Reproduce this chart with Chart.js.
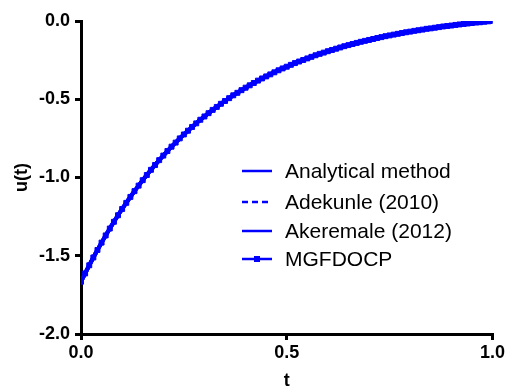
<!DOCTYPE html>
<html>
<head>
<meta charset="utf-8">
<script src="https://cdn.jsdelivr.net/npm/chart.js@4.4.0/dist/chart.umd.min.js"></script>
<style>
  html, body { margin: 0; padding: 0; background: #fff; }
  canvas { display: block; }
</style>
</head>
<body>
<canvas id="myChart" width="507" height="392"></canvas>
<script>
// t grid (step 0.01) and the curve
const tValues = [
  0.00, 0.01, 0.02, 0.03, 0.04, 0.05, 0.06, 0.07, 0.08, 0.09,
  0.10, 0.11, 0.12, 0.13, 0.14, 0.15, 0.16, 0.17, 0.18, 0.19,
  0.20, 0.21, 0.22, 0.23, 0.24, 0.25, 0.26, 0.27, 0.28, 0.29,
  0.30, 0.31, 0.32, 0.33, 0.34, 0.35, 0.36, 0.37, 0.38, 0.39,
  0.40, 0.41, 0.42, 0.43, 0.44, 0.45, 0.46, 0.47, 0.48, 0.49,
  0.50, 0.51, 0.52, 0.53, 0.54, 0.55, 0.56, 0.57, 0.58, 0.59,
  0.60, 0.61, 0.62, 0.63, 0.64, 0.65, 0.66, 0.67, 0.68, 0.69,
  0.70, 0.71, 0.72, 0.73, 0.74, 0.75, 0.76, 0.77, 0.78, 0.79,
  0.80, 0.81, 0.82, 0.83, 0.84, 0.85, 0.86, 0.87, 0.88, 0.89,
  0.90, 0.91, 0.92, 0.93, 0.94, 0.95, 0.96, 0.97, 0.98, 0.99,
  1.00,
];

const uAnalytical = [
  -1.666, -1.613, -1.561, -1.511, -1.463, -1.416, -1.370, -1.326, -1.283, -1.241,
  -1.201, -1.162, -1.124, -1.087, -1.052, -1.017, -0.984, -0.951, -0.920, -0.889,
  -0.860, -0.831, -0.803, -0.777, -0.750, -0.725, -0.701, -0.677, -0.654, -0.631,
  -0.610, -0.589, -0.568, -0.549, -0.529, -0.511, -0.493, -0.475, -0.459, -0.442,
  -0.426, -0.411, -0.396, -0.381, -0.367, -0.354, -0.341, -0.328, -0.315, -0.303,
  -0.292, -0.280, -0.269, -0.259, -0.249, -0.239, -0.229, -0.219, -0.210, -0.202,
  -0.193, -0.185, -0.177, -0.169, -0.161, -0.154, -0.147, -0.140, -0.133, -0.127,
  -0.121, -0.115, -0.109, -0.103, -0.097, -0.092, -0.087, -0.082, -0.077, -0.072,
  -0.068, -0.063, -0.059, -0.055, -0.050, -0.047, -0.043, -0.039, -0.035, -0.032,
  -0.029, -0.025, -0.022, -0.019, -0.016, -0.013, -0.010, -0.008, -0.005, -0.002,
  0.000,
];

// the other methods sit on top of the analytical curve in the picture
const uAdekunle = uAnalytical.slice();
const uAkeremale = uAnalytical.slice();
const uMgfdocp = uAnalytical.slice();

const seriesNames = ["Analytical method", "Adekunle (2010)", "Akeremale (2012)", "MGFDOCP"];

const yTicks = [0, -0.5, -1, -1.5, -2];
const xTicks = [0, 0.5, 1];

const blue = "#0000ff";

const toPoints = (ys) => tValues.map((t, i) => ({ x: t, y: ys[i] }));

// legend drawn inside the plot area, like the original
const insideLegend = {
  id: "insideLegend",
  afterDraw(chart) {
    const ctx = chart.ctx;
    const x0 = 242;
    const x1 = 272;
    const textX = 285;
    const rows = [171, 202, 231, 259];
    ctx.save();
    ctx.font = "21px 'Liberation Sans', Arial, sans-serif";
    ctx.textBaseline = "middle";
    ctx.fillStyle = "#000";
    chart.data.datasets.forEach((ds, i) => {
      const y = rows[i];
      ctx.strokeStyle = ds.borderColor;
      ctx.lineWidth = 2.5;
      ctx.setLineDash(ds.legendDash || []);
      ctx.beginPath();
      ctx.moveTo(x0, y);
      ctx.lineTo(x1, y);
      ctx.stroke();
      ctx.setLineDash([]);
      if (ds.pointRadius > 0) {
        ctx.fillStyle = ds.borderColor;
        ctx.fillRect((x0 + x1) / 2 - 3, y - 3, 6, 6);
        ctx.fillStyle = "#000";
      }
      ctx.fillText(ds.label, textX, y + 1);
    });
    ctx.restore();
  },
};

const axisStyle = {
  grid: {
    display: true,
    drawOnChartArea: false,
    drawTicks: true,
    tickLength: 6,
    lineWidth: 3,
    color: "#000",
  },
  border: {
    display: true,
    width: 3,
    color: "#000",
  },
};

const ctx = document.getElementById("myChart");

const myChart = new Chart(ctx, {
  type: "line",
  data: {
    datasets: [
      {
        label: seriesNames[0],
        data: toPoints(uAnalytical),
        borderColor: blue,
        borderWidth: 4,
        pointRadius: 0,
      },
      {
        label: seriesNames[1],
        data: toPoints(uAdekunle),
        borderColor: blue,
        borderWidth: 4,
        borderDash: [6, 4],
        legendDash: [6, 4],
        pointRadius: 0,
      },
      {
        label: seriesNames[2],
        data: toPoints(uAkeremale),
        borderColor: blue,
        borderWidth: 4,
        pointRadius: 0,
      },
      {
        label: seriesNames[3],
        data: toPoints(uMgfdocp),
        borderColor: blue,
        backgroundColor: blue,
        borderWidth: 4,
        pointRadius: 3.5,
        pointStyle: "rect",
        pointBorderWidth: 1,
        pointBorderColor: blue,
      },
    ],
  },
  options: {
    responsive: false,
    animation: false,
    layout: {
      padding: { left: 0, top: 21, right: 14, bottom: 0 },
    },
    plugins: {
      legend: { display: false },
      tooltip: { enabled: false },
    },
    scales: {
      x: {
        type: "linear",
        min: 0,
        max: 1,
        afterFit: (scale) => {
          scale.height = 58;
        },
        afterBuildTicks: (scale) => {
          scale.ticks = xTicks.map((v) => ({ value: v }));
        },
        ticks: {
          color: "#000",
          padding: 2,
          maxRotation: 0,
          font: { family: "'Liberation Sans', Arial", size: 18, weight: "bold" },
          callback: (v) => v.toFixed(1),
        },
        title: {
          display: true,
          text: "t",
          color: "#000",
          padding: { top: 7, bottom: 0 },
          font: { family: "'Liberation Sans', Arial", size: 18, weight: "bold" },
        },
        ...axisStyle,
      },
      y: {
        type: "linear",
        min: -2,
        max: 0,
        afterFit: (scale) => {
          scale.width = 81;
        },
        afterBuildTicks: (scale) => {
          scale.ticks = yTicks.map((v) => ({ value: v }));
        },
        ticks: {
          color: "#000",
          padding: 5,
          font: { family: "'Liberation Sans', Arial", size: 18, weight: "bold" },
          callback: (v) => v.toFixed(1),
        },
        title: {
          display: true,
          text: "u(t)",
          color: "#000",
          padding: { top: 11, bottom: 0 },
          font: { family: "'Liberation Sans', Arial", size: 18, weight: "bold" },
        },
        ...axisStyle,
      },
    },
  },
  plugins: [insideLegend],
});
</script>
</body>
</html>
